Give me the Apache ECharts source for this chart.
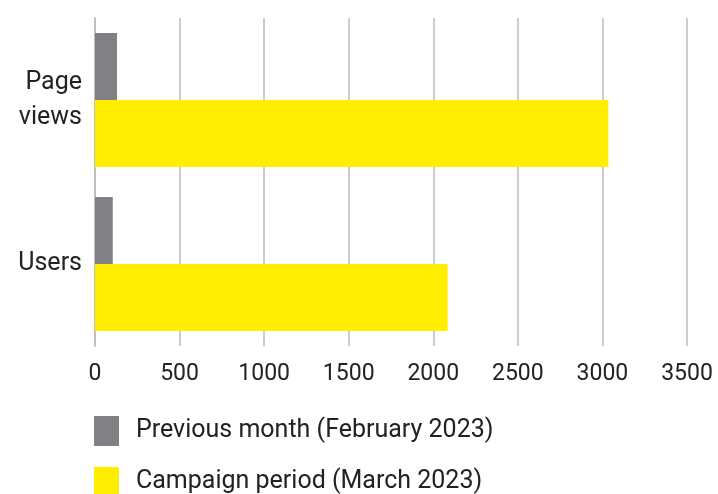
<!DOCTYPE html>
<html>
<head>
<meta charset="utf-8">
<script src="https://cdn.jsdelivr.net/npm/echarts@6/dist/echarts.min.js"></script>
<style>
html,body{margin:0;padding:0;background:#fff;}
#chart{width:718px;height:494px;}
</style>
</head>
<body>
<div id="chart"></div>
<script>
const categories = ["Page\nviews", "Users"];
const previousMonth = [130, 105];
const campaignPeriod = [3035, 2085];
const seriesNames = ["Previous month (February 2023)", "Campaign period (March 2023)"];

const chart = echarts.init(document.getElementById('chart'));
const FONT = 'Roboto';
const legendBase = {
  orient: 'vertical', left: 94, padding: 0,
  itemWidth: 25, itemHeight: 30,
  icon: 'rect',
  textStyle: { color: '#222222', fontFamily: FONT, fontSize: 25, padding: [0, 0, 0, 12] }
};
chart.setOption({
  animation: false,
  backgroundColor: '#ffffff',
  grid: { left: 95, right: 31, top: 18, bottom: 148, containLabel: false },
  xAxis: {
    type: 'value', min: 0, max: 3500, interval: 500,
    axisLine: { show: false },
    axisTick: { show: false },
    splitLine: { show: true, lineStyle: { color: '#cccccc', width: 2 } },
    axisLabel: { color: '#222222', fontFamily: FONT, fontSize: 23, margin: 17, formatter: v => String(v) }
  },
  yAxis: {
    type: 'category', data: categories, inverse: true,
    axisLine: { show: true, lineStyle: { color: '#c0c0c0', width: 2 } },
    axisTick: { show: false },
    axisLabel: { color: '#222222', fontFamily: FONT, fontSize: 25, lineHeight: 35, margin: 13, align: 'right' }
  },
  legend: [
    Object.assign({}, legendBase, { top: 416, data: [seriesNames[0]] }),
    Object.assign({}, legendBase, { top: 467, data: [seriesNames[1]] })
  ],
  series: [
    { name: seriesNames[0], type: 'bar', data: previousMonth, barWidth: 67, barGap: '0%',
      itemStyle: { color: '#808085' } },
    { name: seriesNames[1], type: 'bar', data: campaignPeriod, barWidth: 67, barGap: '0%',
      itemStyle: { color: '#ffee00' } }
  ]
});
</script>
</body>
</html>
